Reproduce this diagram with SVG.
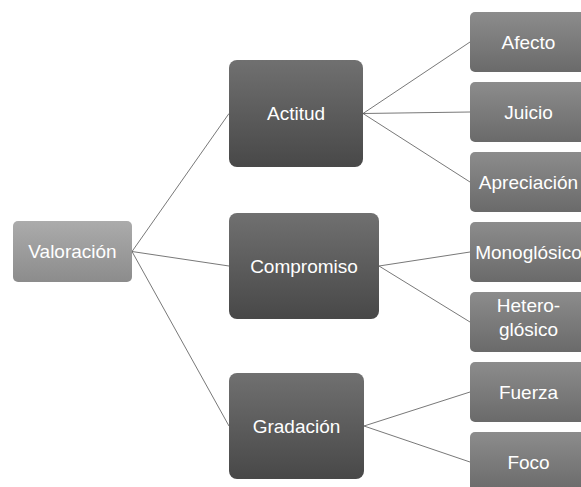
<svg xmlns="http://www.w3.org/2000/svg" width="581" height="487" viewBox="0 0 581 487">
<defs>
<linearGradient id="gRoot" x1="0" y1="0" x2="0" y2="1"><stop offset="0" stop-color="#ababab"/><stop offset="1" stop-color="#8c8c8c"/></linearGradient>
<linearGradient id="gMid" x1="0" y1="0" x2="0" y2="1"><stop offset="0" stop-color="#707070"/><stop offset="1" stop-color="#484848"/></linearGradient>
<linearGradient id="gLeaf" x1="0" y1="0" x2="0" y2="1"><stop offset="0" stop-color="#8c8c8c"/><stop offset="1" stop-color="#6a6a6a"/></linearGradient>
</defs>
<style>
.root{fill:url(#gRoot)}
.mid{fill:url(#gMid)}
.leaf{fill:url(#gLeaf)}
text{font-family:"Liberation Sans","Open Sans",sans-serif;font-size:19px;fill:#ffffff;text-anchor:middle}
.edges line{stroke:#555555;stroke-width:0.8}
</style>
<rect width="581" height="487" fill="#ffffff"/>
<g class="edges" id="connectors">
<line x1="132" y1="251.5" x2="229" y2="113.5"/>
<line x1="132" y1="251.5" x2="229" y2="266"/>
<line x1="132" y1="251.5" x2="229" y2="426"/>
<line x1="363" y1="113.5" x2="470" y2="42"/>
<line x1="363" y1="113.5" x2="470" y2="112"/>
<line x1="363" y1="113.5" x2="470" y2="182"/>
<line x1="379" y1="266" x2="470" y2="252"/>
<line x1="379" y1="266" x2="470" y2="322"/>
<line x1="364" y1="426" x2="470" y2="392"/>
<line x1="364" y1="426" x2="470" y2="462"/>
</g>
<g id="valoracion"><rect class="root" x="13" y="221" width="119" height="61" rx="5"/><text x="72.5" y="258">Valoración</text></g>
<g id="actitud"><rect class="mid" x="229" y="60" width="134" height="107" rx="8"/><text x="296" y="120">Actitud</text></g>
<g id="compromiso"><rect class="mid" x="229" y="213" width="150" height="106" rx="8"/><text x="304" y="272.5">Compromiso</text></g>
<g id="gradacion"><rect class="mid" x="229" y="373" width="135" height="106" rx="8"/><text x="296.5" y="432.5">Gradación</text></g>
<g id="afecto"><rect class="leaf" x="470" y="12" width="117" height="60" rx="5"/><text x="528.5" y="48.5">Afecto</text></g>
<g id="juicio"><rect class="leaf" x="470" y="82" width="117" height="60" rx="5"/><text x="528.5" y="118.5">Juicio</text></g>
<g id="apreciacion"><rect class="leaf" x="470" y="152" width="117" height="60" rx="5"/><text x="528.5" y="188.5">Apreciación</text></g>
<g id="monoglosico"><rect class="leaf" x="470" y="222" width="117" height="60" rx="5"/><text x="528.5" y="258.5">Monoglósico</text></g>
<g id="heteroglosico"><rect class="leaf" x="470" y="292" width="117" height="60" rx="5"/><text x="528.5" y="312">Hetero-</text><text x="528.5" y="336">glósico</text></g>
<g id="fuerza"><rect class="leaf" x="470" y="362" width="117" height="60" rx="5"/><text x="528.5" y="398.5">Fuerza</text></g>
<g id="foco"><rect class="leaf" x="470" y="432" width="117" height="60" rx="5"/><text x="528.5" y="468.5">Foco</text></g>
</svg>
